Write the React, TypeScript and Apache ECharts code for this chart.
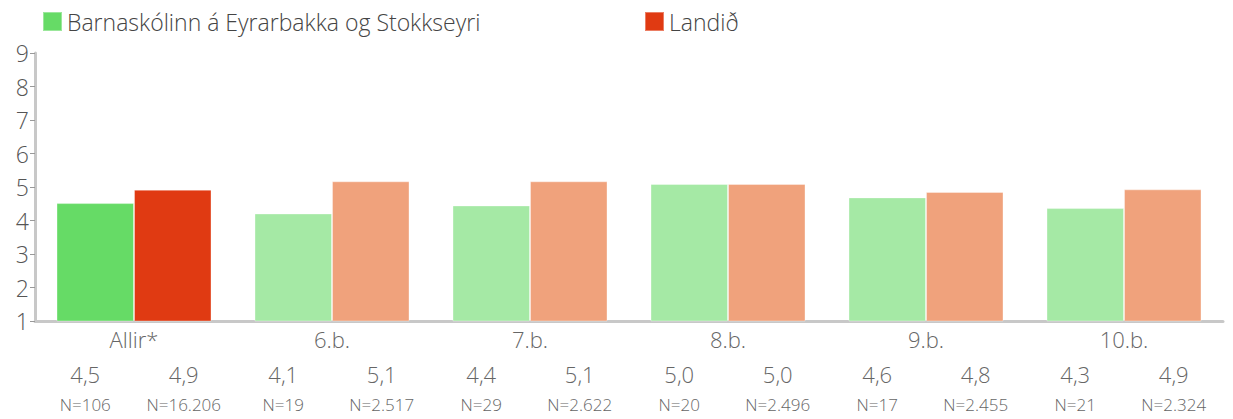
import React, { useEffect, useRef } from "react";
import * as echarts from "echarts";

const categories = ["Allir*", "6.b.", "7.b.", "8.b.", "9.b.", "10.b."];
const schoolName = "Barnaskólinn á Eyrarbakka og Stokkseyri";
const countryName = "Landið";
const schoolValues = [4.52, 4.21, 4.45, 5.09, 4.69, 4.37];
const countryValues = [4.92, 5.17, 5.17, 5.09, 4.85, 4.93];
const schoolLabels = ["4,5", "4,1", "4,4", "5,0", "4,6", "4,3"];
const countryLabels = ["4,9", "5,1", "5,1", "5,0", "4,8", "4,9"];
const schoolN = ["N=106", "N=19", "N=29", "N=20", "N=17", "N=21"];
const countryN = ["N=16.206", "N=2.517", "N=2.622", "N=2.496", "N=2.455", "N=2.324"];
const yTicks = [1, 9];

const FONT = "'Open Sans', 'Noto Sans', sans-serif";

export default function App() {
  const ref = useRef<HTMLDivElement>(null);
  useEffect(() => {
    if (!ref.current) return;
    const chart = echarts.init(ref.current, undefined, { renderer: "svg" });
    const rich = {
      v: { fontSize: 22, lineHeight: 28, color: "#666", fontFamily: FONT, fontWeight: 300 },
      n: { fontSize: 17, lineHeight: 34, color: "#666", fontFamily: FONT, fontWeight: 300 },
    };
    const mkSeries = (
      name: string,
      values: number[],
      labels: string[],
      ns: string[],
      strong: string,
      light: string,
      dx: number
    ) => ({
      name,
      type: "bar",
      barWidth: 77.5,
      barGap: "0%",
      itemStyle: { color: light, borderColor: "rgba(255,255,255,0.35)", borderWidth: 1 },
      data: values.map((v, i) => ({
        value: v,
        itemStyle: i === 0 ? { color: strong } : undefined,
      })),
      label: {
        show: true,
        position: "bottom",
        distance: 38,
        offset: [dx, 0],
        formatter: (p: any) => `{v|${labels[p.dataIndex]}}\n{n|${ns[p.dataIndex]}}`,
        rich,
      },
    });
    const legendText = { fontSize: 23, color: "#444", fontFamily: FONT, fontWeight: 300 };
    chart.setOption({
      animation: false,
      textStyle: { fontFamily: FONT },
      legend: [
        {
          data: [schoolName],
          left: 42,
          top: 10,
          padding: 0,
          icon: "rect",
          itemWidth: 19,
          itemHeight: 19,
          itemGap: 8,
          textStyle: legendText,
          itemStyle: { color: "#66db66" },
          selectedMode: false,
        },
        {
          data: [countryName],
          left: 644,
          top: 10,
          padding: 0,
          icon: "rect",
          itemWidth: 19,
          itemHeight: 19,
          textStyle: legendText,
          itemStyle: { color: "#e03a12" },
          selectedMode: false,
        },
      ],
      grid: { left: 35, right: 10, top: 53, bottom: 98, containLabel: false },
      xAxis: {
        type: "category",
        data: categories,
        axisLine: { lineStyle: { color: "#c8c8c8", width: 3 } },
        axisTick: { show: false },
        axisLabel: { fontSize: 22, color: "#666", margin: 7, fontFamily: FONT, fontWeight: 300 },
      },
      yAxis: {
        type: "value",
        min: yTicks[0],
        max: yTicks[1],
        interval: 1,
        splitLine: { show: false },
        axisLine: { show: true, lineStyle: { color: "#c8c8c8", width: 3 } },
        axisTick: { show: true, length: 5, lineStyle: { color: "#999", width: 1 } },
        axisLabel: { fontSize: 23, color: "#555", margin: 6, fontFamily: FONT, fontWeight: 300 },
      },
      series: [
        mkSeries(schoolName, schoolValues, schoolLabels, schoolN, "#66db66", "#a5e9a5", -10),
        mkSeries(countryName, countryValues, countryLabels, countryN, "#e03a12", "#f0a27c", 11),
      ],
    });
    return () => chart.dispose();
  }, []);
  return (
    <div
      ref={ref}
      style={{ position: "absolute", left: 0, top: 0, width: 1233, height: 419 }}
    />
  );
}
